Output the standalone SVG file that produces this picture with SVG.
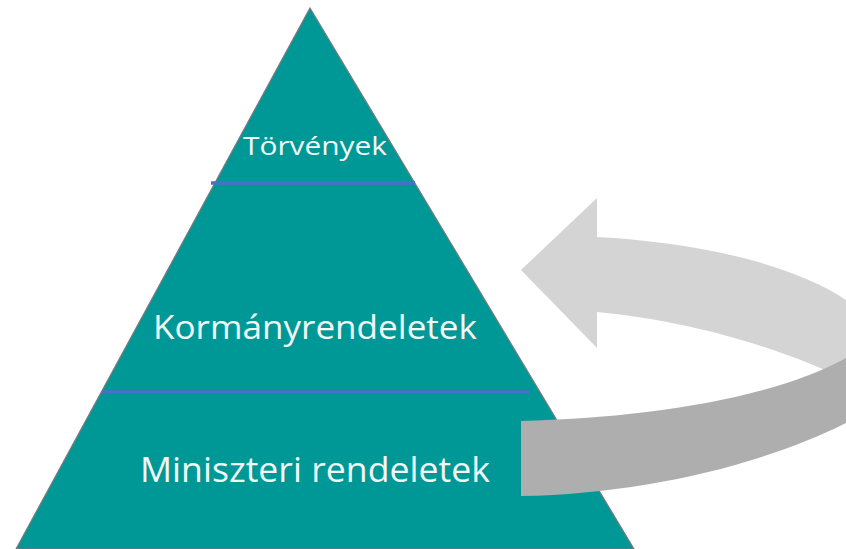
<svg xmlns="http://www.w3.org/2000/svg" width="846" height="549" viewBox="0 0 846 549">
<style>
.lbl{font-family:"Open Sans","Noto Sans","Liberation Sans",sans-serif;fill:#F2F8F8;}
.div{stroke:#4A6FC6;stroke-width:3.5;}
</style>
<rect width="846" height="549" fill="#ffffff"/>
<g id="pyramid">
<polygon points="310,8 634,549 16,549" fill="#009896" stroke="#7A7A7A" stroke-width="1.2"/>
<line class="div" x1="211" y1="183" x2="415" y2="183"/>
<line class="div" x1="102" y1="392" x2="530" y2="392"/>
</g>
<g id="node-torvenyek">
<text class="lbl" x="243" y="155" font-size="26" textLength="144" lengthAdjust="spacingAndGlyphs">Törvények</text>
</g>
<g id="node-kormanyrendeletek">
<text class="lbl" x="153" y="339" font-size="33" textLength="324" lengthAdjust="spacingAndGlyphs">Kormányrendeletek</text>
</g>
<g id="node-miniszteri">
<text class="lbl" x="140" y="482" font-size="34" textLength="350" lengthAdjust="spacingAndGlyphs">Miniszteri rendeletek</text>
</g>
<g id="connectors">
<path d="M521,270 L597,198 L597,237 C690,242 790,262 846,300 L846,380 C790,352 700,322 597,312 L597,348 Z" fill="#D4D4D4"/>
<path d="M521,421 C640,418 770,400 846,358 L846,423 C760,466 640,494 521,496 Z" fill="#AEAEAE"/>
</g>
</svg>
